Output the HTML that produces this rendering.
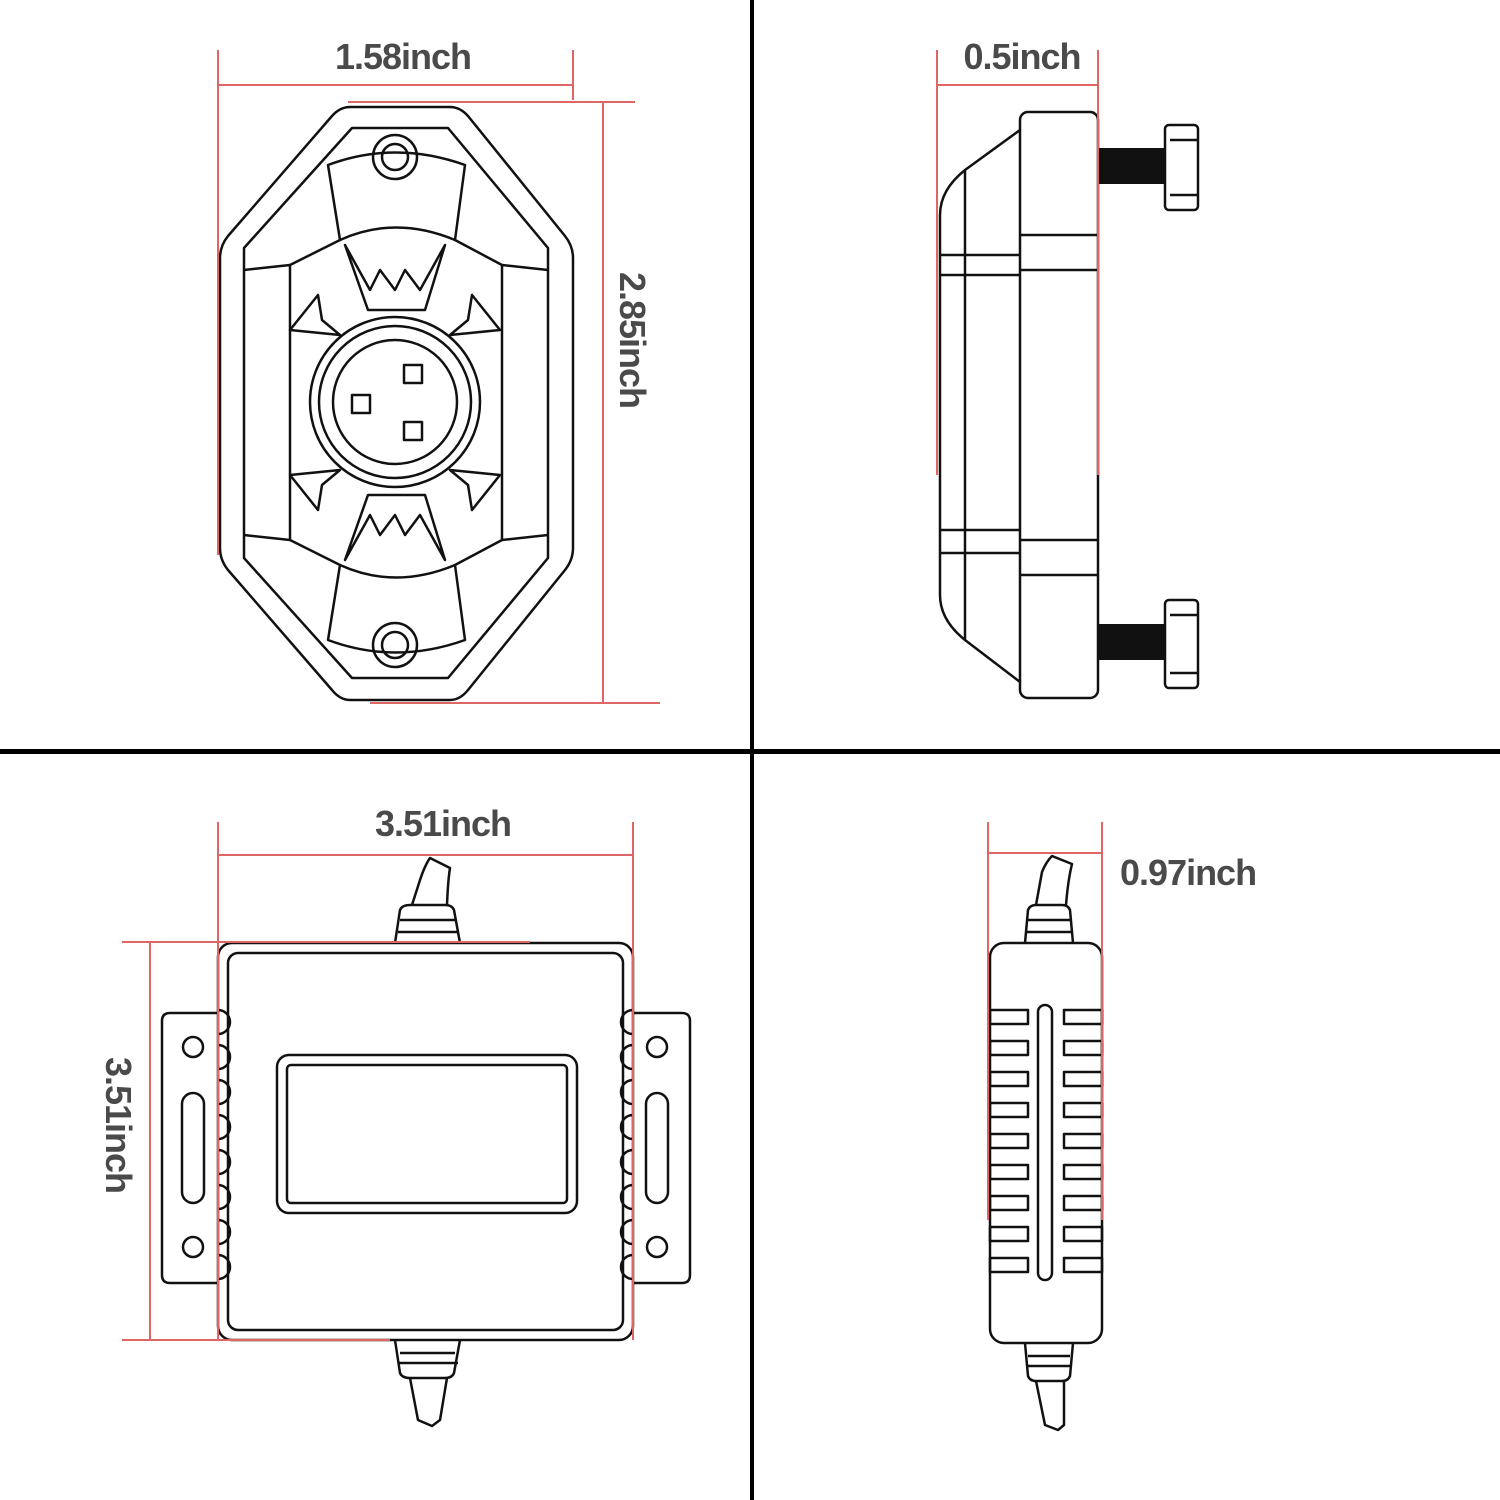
<!DOCTYPE html>
<html><head><meta charset="utf-8"><style>
html,body{margin:0;padding:0;background:#fff;}
svg{display:block}
text{font-family:"Liberation Sans",sans-serif;font-weight:bold;fill:#4a4a4a;font-size:36px;letter-spacing:-1px}
</style></head><body>
<svg width="1500" height="1500" viewBox="0 0 1500 1500" xmlns="http://www.w3.org/2000/svg">
<rect width="1500" height="1500" fill="#fff"/>
<rect x="750" y="0" width="4" height="1500" fill="#000"/>
<rect x="0" y="749" width="1500" height="5" fill="#000"/>

<g fill="none" stroke="#111" stroke-width="2.5" stroke-linejoin="round">
<path d="M350 107 L450 107 Q460 107 468 116 L565 236 Q573 246 573 258 L573 548 Q573 560 565 570 L468 690 Q460 700 450 700 L350 700 Q340 700 332 690 L228 570 Q220 560 220 548 L220 258 Q220 246 228 236 L332 116 Q340 107 350 107 Z"/>
<path d="M352 128 L448 128 L548 248 L548 558 L448 678 L352 678 L244 558 L244 248 Z"/>
<path d="M328 165 Q395 140 465 165 L455 240 Q395 215 340 240 Z"/>
<path d="M328 640 Q395 665 465 640 L455 565 Q395 590 340 565 Z"/>
<path d="M244 270 L290 265 L290 540 L244 535"/>
<path d="M548 270 L502 265 L502 540 L548 535"/>
<path d="M290 265 L340 240 M502 265 L455 240 M290 540 L340 565 M502 540 L455 565"/>
<circle cx="395" cy="157" r="22"/><circle cx="395" cy="157" r="13"/>
<circle cx="395" cy="645" r="22"/><circle cx="395" cy="645" r="13"/>
<circle cx="395" cy="402" r="85"/><circle cx="395" cy="402" r="76"/><circle cx="395" cy="402" r="62"/>
<rect x="404" y="365" width="18" height="18"/><rect x="352" y="395" width="18" height="18"/><rect x="404" y="422" width="18" height="18"/>
<path d="M345 245 L368 310 L425 310 L445 245 L420 290 L405 270 L395 290 L380 270 L370 290 Z"/>
<path d="M345 560 L368 495 L425 495 L445 560 L420 515 L405 535 L395 515 L380 535 L370 515 Z"/>
<path d="M290 330 L318 295 L322 320 L340 335 Z"/>
<path d="M500 330 L472 295 L468 320 L450 335 Z"/>
<path d="M290 475 L318 510 L322 485 L340 470 Z"/>
<path d="M500 475 L472 510 L468 485 L450 470 Z"/>

<rect x="1020" y="112" width="78" height="586" rx="8"/>
<path d="M1020 130 L965 170 Q940 190 940 215 L940 595 Q940 620 965 640 L1020 682"/>
<path d="M965 170 L965 640"/>
<path d="M1020 235 L1098 235 M1020 270 L1098 270 M1020 540 L1098 540 M1020 575 L1098 575"/>
<path d="M940 255 L1020 255 M940 275 L1020 275 M940 530 L1020 530 M940 553 L1020 553"/>
<rect x="1165" y="125" width="33" height="85" rx="4"/>
<path d="M1170 140 L1198 140 M1170 195 L1198 195"/>
<rect x="1165" y="600" width="33" height="88" rx="4"/>
<path d="M1170 615 L1198 615 M1170 673 L1198 673"/>

<rect x="218" y="943" width="415" height="397" rx="14"/>
<rect x="228" y="953" width="395" height="377" rx="10"/>
<rect x="277" y="1055" width="300" height="158" rx="12"/>
<rect x="287" y="1065" width="280" height="138" rx="4"/>
<path d="M218 1013 L170 1013 Q162 1013 162 1021 L162 1275 Q162 1283 170 1283 L218 1283"/>
<path d="M633 1013 L682 1013 Q690 1013 690 1021 L690 1275 Q690 1283 682 1283 L633 1283"/>
<circle cx="193" cy="1047" r="10"/><circle cx="193" cy="1247" r="10"/>
<rect x="182" y="1093" width="22" height="110" rx="11"/>
<circle cx="657" cy="1047" r="10"/><circle cx="657" cy="1247" r="10"/>
<rect x="646" y="1093" width="22" height="110" rx="11"/>
<path d="M218 1010 a6 6 0 0 1 0 24 M218 1045 a6 6 0 0 1 0 24 M218 1080 a6 6 0 0 1 0 24 M218 1115 a6 6 0 0 1 0 24 M218 1150 a6 6 0 0 1 0 24 M218 1185 a6 6 0 0 1 0 24 M218 1220 a6 6 0 0 1 0 24 M218 1255 a6 6 0 0 1 0 24"/>
<path d="M633 1010 a6 6 0 0 0 0 24 M633 1045 a6 6 0 0 0 0 24 M633 1080 a6 6 0 0 0 0 24 M633 1115 a6 6 0 0 0 0 24 M633 1150 a6 6 0 0 0 0 24 M633 1185 a6 6 0 0 0 0 24 M633 1220 a6 6 0 0 0 0 24 M633 1255 a6 6 0 0 0 0 24"/>
<path d="M395 943 L400 910 Q402 905 410 905 L445 905 Q452 905 454 910 L460 943"/>
<path d="M412 905 L420 880 Q425 865 430 858 L450 868 Q448 880 447 905"/>
<path d="M400 920 L455 920 M398 932 L458 932"/>
<path d="M395 1340 L400 1373 Q402 1378 410 1378 L445 1378 Q452 1378 454 1373 L460 1340"/>
<path d="M410 1378 L418 1420 L432 1426 L440 1420 L447 1378"/>
<path d="M400 1353 L455 1353 M398 1363 L458 1363"/>

<rect x="990" y="943" width="112" height="400" rx="14"/>
<rect x="1038" y="1005" width="14" height="275" rx="7"/>
<path d="M1025 943 L1028 910 Q1030 905 1036 905 L1062 905 Q1068 905 1070 910 L1073 943"/>
<path d="M1036 905 L1042 872 Q1046 862 1052 856 L1072 864 Q1068 880 1066 905"/>
<path d="M1028 920 L1070 920 M1027 932 L1071 932"/>
<path d="M1025 1343 L1028 1376 Q1030 1381 1036 1381 L1062 1381 Q1068 1381 1070 1376 L1073 1343"/>
<path d="M1036 1381 L1045 1425 L1058 1430 L1064 1425 L1064 1381"/>
<path d="M1028 1356 L1070 1356 M1027 1366 L1071 1366"/>
<g>
<rect x="990" y="1010" width="38" height="14"/><rect x="1064" y="1010" width="38" height="14"/>
<rect x="990" y="1041" width="38" height="14"/><rect x="1064" y="1041" width="38" height="14"/>
<rect x="990" y="1072" width="38" height="14"/><rect x="1064" y="1072" width="38" height="14"/>
<rect x="990" y="1103" width="38" height="14"/><rect x="1064" y="1103" width="38" height="14"/>
<rect x="990" y="1134" width="38" height="14"/><rect x="1064" y="1134" width="38" height="14"/>
<rect x="990" y="1165" width="38" height="14"/><rect x="1064" y="1165" width="38" height="14"/>
<rect x="990" y="1196" width="38" height="14"/><rect x="1064" y="1196" width="38" height="14"/>
<rect x="990" y="1227" width="38" height="14"/><rect x="1064" y="1227" width="38" height="14"/>
<rect x="990" y="1258" width="38" height="14"/><rect x="1064" y="1258" width="38" height="14"/>
</g>
</g>
<g fill="#111">
<rect x="1098" y="148" width="67" height="36"/>
<rect x="1098" y="624" width="67" height="36"/>
</g>

<g stroke="#e06666" stroke-width="2" fill="none">
<path d="M218 50 L218 555 M573 50 L573 100 M218 85 L573 85"/>
<path d="M348 102 L635 102 M603 102 L603 703 M370 703 L660 703"/>
<path d="M937 50 L937 475 M1098 50 L1098 475 M937 85 L1098 85"/>
<path d="M218 822 L218 1340 M633 822 L633 1340 M218 855 L633 855"/>
<path d="M122 942 L530 942 M150 942 L150 1340 M122 1340 L390 1340"/>
<path d="M988 822 L988 1220 M1102 822 L1102 1220 M988 853 L1102 853"/>
</g>

<text x="403" y="69" text-anchor="middle">1.58inch</text>
<text x="1022" y="69" text-anchor="middle">0.5inch</text>
<text x="443" y="836" text-anchor="middle">3.51inch</text>
<text x="1120" y="885">0.97inch</text>
<text transform="translate(620,340) rotate(90)" text-anchor="middle">2.85inch</text>
<text transform="translate(106,1125) rotate(90)" text-anchor="middle">3.51inch</text>
</svg>
</body></html>
